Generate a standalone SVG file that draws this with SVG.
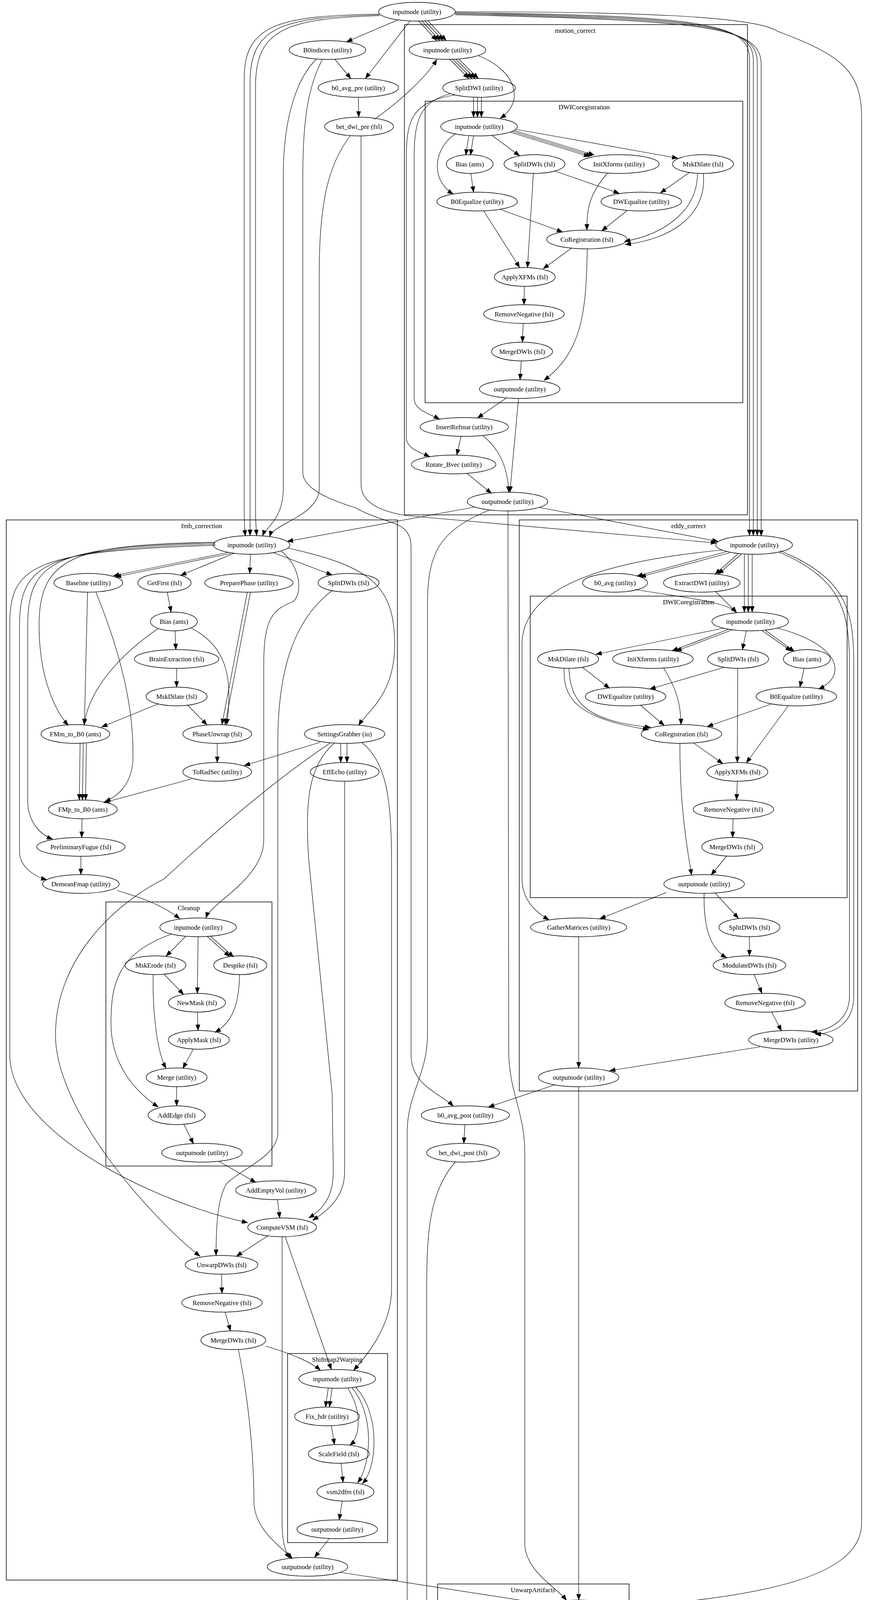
<svg xmlns="http://www.w3.org/2000/svg" width="2224" height="5045" viewBox="0 0 2224 5045">
<style>
ellipse{fill:none;stroke:#000;stroke-width:1.4}
text{font-family:"Liberation Serif",serif;font-size:17px;text-anchor:middle;fill:#000}
.c{fill:none;stroke:#000;stroke-width:1.5}
#edges path{fill:none;stroke:#000;stroke-width:1.2;marker-end:url(#a)}
</style>
<defs><marker id="a" markerUnits="userSpaceOnUse" markerWidth="16" markerHeight="12" refX="15" refY="6" orient="auto"><path d="M0,0 L16,6 L0,12 z" fill="#000"/></marker></defs>
<rect width="2224" height="5045" fill="#fff"/>
<g id="clusters">
<rect class="c" x="1035" y="63" width="878" height="1255"/><text x="1472" y="84">motion_correct</text>
<rect class="c" x="1088" y="259" width="813" height="772"/><text x="1495" y="280">DWICoregistration</text>
<rect class="c" x="16" y="1331" width="1001" height="2714"/><text x="516" y="1352">fmb_correction</text>
<rect class="c" x="271" y="2309" width="425" height="676"/><text x="483" y="2330">Cleanup</text>
<rect class="c" x="736" y="3465" width="256" height="484"/><text x="863" y="3486">Shiftmap2Warping</text>
<rect class="c" x="1329" y="1331" width="866" height="1462"/><text x="1762" y="1352">eddy_correct</text>
<rect class="c" x="1357" y="1526" width="811" height="772"/><text x="1762" y="1547">DWICoregistration</text>
<rect class="c" x="1120" y="4055" width="490" height="868"/><text x="1364" y="4076">UnwarpArtifacts</text>
<text x="1113" y="5030">hmc_sdc_ecc</text>
</g>
<g id="edges">
<path d="M1018,51 L887,107"/>
<path d="M1049,54 L935,201"/>
<path d="M1071,53 L1118,104"/><path d="M1079,53 L1126,104"/><path d="M1087,53 L1134,104"/><path d="M1095,53 L1142,104"/>
<path d="M972,36 C720,40 625,60 625,200 L625,1300 C625,1340 626,1355 628,1372"/>
<path d="M972,38 C730,44 640,64 640,210 L640,1371"/>
<path d="M972,40 C740,48 654,70 654,220 L654,1300 C654,1340 656,1360 657,1371"/>
<path d="M1165,32 C1800,40 1918,60 1918,150 L1918,1371"/>
<path d="M1165,34 C1810,44 1928,64 1928,155 L1928,1371"/>
<path d="M1165,36 C1820,48 1938,68 1938,160 L1938,1371"/>
<path d="M1165,38 C1830,52 1948,72 1948,165 L1948,1372"/>
<path d="M1165,30 C1600,30 1930,40 1990,80 C2150,140 2205,180 2205,300 L2205,3900 C2205,4050 1900,4090 1582,4116"/>
<path d="M857,152 L898,201"/>
<path d="M810,151 C760,200 725,300 725,450 L725,1250 C725,1330 680,1350 672,1372"/>
<path d="M897,347 C840,420 817,520 817,700 L817,1250 C817,1320 700,1340 690,1374"/>
<path d="M825,152 C790,220 775,300 775,450 L775,1210 C775,1260 880,1290 910,1300 C990,1345 1052,1330 1052,1400 L1052,2700 C1052,2780 1130,2800 1160,2832"/>
<path d="M924,348 L924,1240 C924,1290 980,1310 1040,1320 L1834,1390"/>
<path d="M957,306 C1010,270 1090,200 1118,152"/>
<path d="M917,249 L918,300"/>
<path d="M1150,151 L1200,201"/><path d="M1158,151 L1208,201"/><path d="M1166,151 L1216,201"/><path d="M1174,151 L1224,201"/>
<path d="M1225,143 C1320,180 1345,260 1280,303"/>
<path d="M1212,249 L1212,300"/><path d="M1222,249 L1222,300"/><path d="M1232,249 L1232,300"/>
<path d="M1152,240 C1080,260 1060,300 1060,400 L1060,1020 C1060,1050 1100,1060 1125,1073"/>
<path d="M1165,243 C1060,260 1040,300 1040,400 L1040,1120 C1040,1150 1080,1160 1100,1169"/>
<path d="M1200,347 L1192,397"/><path d="M1212,347 L1204,397"/>
<path d="M1165,343 C1110,380 1100,460 1160,497"/>
<path d="M1258,346 L1330,399"/>
<path d="M1304,338 L1509,401"/><path d="M1310,336 L1515,399"/><path d="M1316,334 L1521,397"/>
<path d="M1320,331 L1735,405"/>
<path d="M1205,444 L1212,492"/>
<path d="M1365,444 L1350,685"/>
<path d="M1420,438 L1585,495"/>
<path d="M1555,443 C1505,500 1502,540 1502,589"/>
<path d="M1765,441 L1690,494"/>
<path d="M1785,444 C1785,540 1700,600 1598,618"/>
<path d="M1800,444 C1810,550 1720,612 1600,626"/>
<path d="M1280,536 L1440,594"/>
<path d="M1238,540 L1330,685"/>
<path d="M1605,539 L1540,591"/>
<path d="M1463,635 L1390,688"/>
<path d="M1503,637 C1500,800 1490,900 1392,974"/>
<path d="M1342,733 L1341,780"/>
<path d="M1339,828 L1337,876"/>
<path d="M1334,924 L1331,972"/>
<path d="M1297,1018 L1222,1070"/>
<path d="M1327,1020 L1305,1260"/>
<path d="M1180,1117 L1169,1165"/>
<path d="M1235,1115 C1280,1150 1300,1200 1302,1260"/>
<path d="M1195,1212 L1258,1263"/>
<path d="M1215,1298 L735,1386"/>
<path d="M1380,1299 L1838,1386"/>
<path d="M1300,1308 L1302,2700 C1305,2800 1343,2850 1343,2950 L1343,3950 C1343,4020 1420,4060 1450,4097"/>
<path d="M1252,1306 C1120,1360 1094,1420 1094,1550 L1094,2650 C1094,2750 1042,2800 1042,2900 L1042,4800 C1042,4900 1080,4940 1085,4960"/>
<path d="M1165,2975 C1100,3050 1092,3150 1092,3300 L1092,4960"/>
<path d="M585,1414 L290,1474"/><path d="M590,1417 L295,1477"/>
<path d="M600,1416 L462,1473"/>
<path d="M641,1419 L639,1468"/>
<path d="M700,1415 L850,1472"/>
<path d="M736,1403 C950,1450 1010,1500 1010,1650 C1010,1780 940,1820 918,1857"/>
<path d="M720,1411 C770,1450 775,1520 750,1540 C700,1560 675,1580 675,1700 L675,2150 C675,2250 540,2310 527,2350"/>
<path d="M550,1388 C200,1395 100,1420 100,1600 C100,1750 150,1830 175,1857"/>
<path d="M550,1390 C150,1400 71,1430 71,1600 L71,2050 C71,2110 110,2140 135,2148"/>
<path d="M551,1393 C120,1405 50,1440 50,1600 L50,2180 C50,2220 90,2245 120,2252"/>
<path d="M552,1396 C80,1410 25,1450 25,1600 L25,2700 C25,2900 400,3080 634,3130"/>
<path d="M845,1902 C700,2000 560,2120 420,2250 C300,2310 142,2450 142,2650 C142,2850 400,3130 512,3216"/>
<path d="M224,1516 L216,1855"/>
<path d="M245,1515 C300,1650 345,1800 340,1950 C335,2010 300,2040 268,2052"/>
<path d="M428,1516 L438,1567"/>
<path d="M448,1615 L450,1663"/>
<path d="M405,1609 C330,1660 230,1750 215,1856"/>
<path d="M490,1608 C570,1650 600,1720 580,1855"/>
<path d="M452,1711 L452,1759"/>
<path d="M405,1802 L260,1861"/>
<path d="M480,1805 L530,1856"/>
<path d="M633,1516 L568,1855"/><path d="M641,1516 L576,1855"/>
<path d="M556,1903 L556,1952"/>
<path d="M205,1903 L203,2048"/><path d="M213,1903 L211,2048"/><path d="M221,1903 L219,2048"/>
<path d="M490,1994 L265,2055"/>
<path d="M210,2096 L209,2144"/>
<path d="M207,2192 L207,2239"/>
<path d="M300,2280 C370,2300 420,2320 460,2352"/>
<path d="M850,1512 C760,1580 711,1700 711,1900 L711,2900 C711,2960 620,2990 580,3030 C555,3070 553,3150 553,3214"/>
<path d="M820,1900 L625,1960"/>
<path d="M872,1903 L872,1952"/><path d="M888,1903 L888,1952"/>
<path d="M855,1903 C790,1960 780,2050 790,2200 L850,2800 L853,3000 C853,3070 820,3100 790,3118"/>
<path d="M882,2000 L882,3000 C882,3070 830,3105 800,3124"/>
<path d="M925,1900 C990,1950 1002,2050 1002,2200 L1002,3300 C1002,3400 930,3480 905,3508"/>
<path d="M475,2397 L425,2448"/>
<path d="M507,2398 L505,2543"/>
<path d="M530,2397 L588,2449"/><path d="M538,2396 L598,2450"/>
<path d="M440,2391 C300,2440 284,2520 284,2620 C284,2720 340,2790 405,2834"/>
<path d="M420,2494 L470,2546"/>
<path d="M392,2495 C390,2580 400,2690 425,2735"/>
<path d="M613,2495 C612,2580 590,2620 550,2643"/>
<path d="M505,2591 L507,2638"/>
<path d="M495,2685 L468,2735"/>
<path d="M452,2782 L452,2831"/>
<path d="M470,2877 L495,2928"/>
<path d="M560,2973 L655,3027"/>
<path d="M710,3071 L716,3118"/>
<path d="M685,3164 L605,3216"/>
<path d="M730,3166 L848,3506"/>
<path d="M722,3166 L722,3900 C722,3960 735,3980 742,3989"/>
<path d="M567,3262 L568,3311"/>
<path d="M576,3359 L590,3407"/>
<path d="M680,3446 C760,3470 800,3490 820,3508"/>
<path d="M610,3455 C630,3550 650,3700 650,3850 C655,3920 720,3960 748,3990"/>
<path d="M840,3554 L833,3602"/><path d="M850,3554 L843,3602"/>
<path d="M890,3553 C930,3620 920,3680 895,3700"/>
<path d="M900,3552 C960,3620 950,3750 915,3796"/>
<path d="M910,3551 C975,3620 965,3760 927,3798"/>
<path d="M848,3650 L856,3698"/>
<path d="M873,3746 L878,3795"/>
<path d="M876,3843 L868,3891"/>
<path d="M843,3938 L805,3987"/>
<path d="M870,4025 L1400,4107"/>
<path d="M1860,1412 L1630,1475"/><path d="M1868,1415 L1638,1477"/>
<path d="M1890,1417 L1830,1470"/><path d="M1898,1418 L1838,1470"/>
<path d="M1905,1419 L1905,1567"/><path d="M1915,1419 L1915,1567"/><path d="M1925,1419 L1925,1567"/>
<path d="M1850,1408 C1500,1440 1336,1520 1336,1650 L1336,2250 C1336,2310 1380,2340 1405,2355"/>
<path d="M1993,1413 C2150,1480 2174,1560 2174,1700 L2174,2550 C2174,2620 2110,2640 2076,2642"/>
<path d="M1997,1410 C2165,1480 2185,1560 2185,1700 L2185,2550 C2185,2630 2120,2648 2086,2647"/>
<path d="M1625,1509 C1750,1530 1860,1540 1885,1568"/>
<path d="M1830,1513 L1885,1568"/>
<path d="M1852,1608 L1525,1675"/>
<path d="M1865,1611 L1720,1666"/><path d="M1875,1612 L1730,1667"/>
<path d="M1910,1615 L1900,1663"/>
<path d="M1950,1614 L2025,1667"/><path d="M1958,1613 L2033,1668"/>
<path d="M1990,1608 C2150,1650 2170,1730 2095,1764"/>
<path d="M1490,1708 L1560,1762"/>
<path d="M1444,1711 C1440,1790 1480,1840 1660,1868"/>
<path d="M1456,1711 C1460,1800 1500,1845 1665,1862"/>
<path d="M1698,1710 C1730,1760 1742,1800 1743,1855"/>
<path d="M1855,1708 L1663,1764"/>
<path d="M1888,1711 L1887,1952"/>
<path d="M2058,1711 L2047,1759"/>
<path d="M1640,1806 L1700,1857"/>
<path d="M1975,1802 L1810,1860"/>
<path d="M2018,1806 L1910,1953"/>
<path d="M1775,1902 L1850,1955"/>
<path d="M1740,1903 C1740,2000 1745,2100 1770,2240"/>
<path d="M1887,2000 L1885,2048"/>
<path d="M1876,2096 L1875,2144"/>
<path d="M1860,2191 L1820,2240"/>
<path d="M1705,2285 L1535,2352"/>
<path d="M1830,2286 L1890,2351"/>
<path d="M1802,2287 C1800,2380 1820,2430 1860,2452"/>
<path d="M1918,2398 L1918,2447"/>
<path d="M1930,2495 L1950,2543"/>
<path d="M1975,2591 L2000,2639"/>
<path d="M1945,2680 L1560,2741"/>
<path d="M1481,2398 L1481,2734"/>
<path d="M1420,2777 L1250,2834"/>
<path d="M1481,2782 L1481,4096"/>
<path d="M1190,2879 L1187,2927"/>
<path d="M1435,4141 L1305,4199"/>
<path d="M1459,4144 L1459,4194"/><path d="M1472,4144 L1472,4193"/><path d="M1486,4144 L1486,4193"/><path d="M1500,4144 L1500,4194"/>
<path d="M1250,4241 C1225,4300 1225,4350 1227,4384"/>
<path d="M1290,4238 L1330,4289"/>
<path d="M1410,4236 C1300,4280 1235,4310 1232,4384"/>
<path d="M1481,4241 L1481,4384"/>
<path d="M1505,4240 C1580,4350 1600,4450 1600,4600 C1600,4720 1550,4800 1490,4868"/>
<path d="M1330,4333 L1265,4386"/>
<path d="M1390,4336 L1445,4387"/>
<path d="M1362,4336 L1364,4480"/>
<path d="M1233,4432 C1232,4500 1240,4540 1265,4578"/>
<path d="M1452,4430 L1400,4482"/>
<path d="M1485,4432 C1500,4550 1500,4700 1488,4866"/>
<path d="M1340,4527 L1312,4578"/>
<path d="M1390,4527 C1430,4620 1435,4760 1437,4864"/>
<path d="M1287,4625 L1287,4672"/>
<path d="M1290,4720 L1292,4768"/>
<path d="M1330,4813 L1395,4866"/>
<path d="M1370,4907 L1160,4964"/>
</g>
<g id="top_inputnode"><ellipse cx="1067" cy="30" rx="98" ry="24"/><text x="1067" y="36">inputnode (utility)</text></g>
<g id="B0indices"><ellipse cx="838" cy="128" rx="98" ry="24"/><text x="838" y="134">B0indices (utility)</text></g>
<g id="b0_avg_pre"><ellipse cx="917" cy="225" rx="103" ry="24"/><text x="917" y="231">b0_avg_pre (utility)</text></g>
<g id="bet_dwi_pre"><ellipse cx="919" cy="324" rx="88" ry="24"/><text x="919" y="330">bet_dwi_pre (fsl)</text></g>
<g id="mc_inputnode"><ellipse cx="1145" cy="128" rx="98" ry="24"/><text x="1145" y="134">inputnode (utility)</text></g>
<g id="mc_SplitDWI"><ellipse cx="1226" cy="225" rx="93" ry="24"/><text x="1226" y="231">SplitDWI (utility)</text></g>
<g id="c1_inputnode"><ellipse cx="1226" cy="324" rx="98" ry="24"/><text x="1226" y="330">inputnode (utility)</text></g>
<g id="c1_Bias"><ellipse cx="1202" cy="420" rx="60" ry="24"/><text x="1202" y="426">Bias (ants)</text></g>
<g id="c1_SplitDWIs"><ellipse cx="1368" cy="420" rx="78" ry="24"/><text x="1368" y="426">SplitDWIs (fsl)</text></g>
<g id="c1_InitXforms"><ellipse cx="1584" cy="420" rx="103" ry="24"/><text x="1584" y="426">InitXforms (utility)</text></g>
<g id="c1_MskDilate"><ellipse cx="1799" cy="420" rx="78" ry="24"/><text x="1799" y="426">MskDilate (fsl)</text></g>
<g id="c1_B0Equalize"><ellipse cx="1221" cy="516" rx="103" ry="24"/><text x="1221" y="522">B0Equalize (utility)</text></g>
<g id="c1_DWEqualize"><ellipse cx="1641" cy="516" rx="103" ry="24"/><text x="1641" y="522">DWEqualize (utility)</text></g>
<g id="c1_CoRegistration"><ellipse cx="1502" cy="613" rx="103" ry="24"/><text x="1502" y="619">CoRegistration (fsl)</text></g>
<g id="c1_ApplyXFMs"><ellipse cx="1343" cy="709" rx="78" ry="24"/><text x="1343" y="715">ApplyXFMs (fsl)</text></g>
<g id="c1_RemoveNegative"><ellipse cx="1341" cy="804" rx="103" ry="24"/><text x="1341" y="810">RemoveNegative (fsl)</text></g>
<g id="c1_MergeDWIs"><ellipse cx="1336" cy="900" rx="78" ry="24"/><text x="1336" y="906">MergeDWIs (fsl)</text></g>
<g id="c1_outputnode"><ellipse cx="1330" cy="996" rx="103" ry="24"/><text x="1330" y="1002">outputnode (utility)</text></g>
<g id="mc_InsertRefmat"><ellipse cx="1188" cy="1093" rx="113" ry="24"/><text x="1188" y="1099">InsertRefmat (utility)</text></g>
<g id="mc_Rotate_Bvec"><ellipse cx="1161" cy="1189" rx="108" ry="24"/><text x="1161" y="1195">Rotate_Bvec (utility)</text></g>
<g id="mc_outputnode"><ellipse cx="1299" cy="1284" rx="103" ry="24"/><text x="1299" y="1290">outputnode (utility)</text></g>
<g id="f_inputnode"><ellipse cx="644" cy="1395" rx="98" ry="24"/><text x="644" y="1401">inputnode (utility)</text></g>
<g id="f_Baseline"><ellipse cx="226" cy="1492" rx="88" ry="24"/><text x="226" y="1498">Baseline (utility)</text></g>
<g id="f_GetFirst"><ellipse cx="421" cy="1492" rx="68" ry="24"/><text x="421" y="1498">GetFirst (fsl)</text></g>
<g id="f_PreparePhase"><ellipse cx="637" cy="1492" rx="113" ry="24"/><text x="637" y="1498">PreparePhase (utility)</text></g>
<g id="f_SplitDWIs"><ellipse cx="892" cy="1492" rx="78" ry="24"/><text x="892" y="1498">SplitDWIs (fsl)</text></g>
<g id="f_Bias"><ellipse cx="445" cy="1591" rx="60" ry="24"/><text x="445" y="1597">Bias (ants)</text></g>
<g id="f_BrainExtraction"><ellipse cx="452" cy="1687" rx="108" ry="24"/><text x="452" y="1693">BrainExtraction (fsl)</text></g>
<g id="f_MskDilate"><ellipse cx="452" cy="1783" rx="78" ry="24"/><text x="452" y="1789">MskDilate (fsl)</text></g>
<g id="f_FMm_to_B0"><ellipse cx="193" cy="1879" rx="88" ry="24"/><text x="193" y="1885">FMm_to_B0 (ants)</text></g>
<g id="f_PhaseUnwrap"><ellipse cx="556" cy="1879" rx="88" ry="24"/><text x="556" y="1885">PhaseUnwrap (fsl)</text></g>
<g id="f_SettingsGrabber"><ellipse cx="882" cy="1879" rx="103" ry="24"/><text x="882" y="1885">SettingsGrabber (io)</text></g>
<g id="f_ToRadSec"><ellipse cx="556" cy="1976" rx="88" ry="24"/><text x="556" y="1982">ToRadSec (utility)</text></g>
<g id="f_EffEcho"><ellipse cx="882" cy="1976" rx="88" ry="24"/><text x="882" y="1982">EffEcho (utility)</text></g>
<g id="f_FMp_to_B0"><ellipse cx="212" cy="2072" rx="88" ry="24"/><text x="212" y="2078">FMp_to_B0 (ants)</text></g>
<g id="f_PreliminaryFugue"><ellipse cx="207" cy="2168" rx="113" ry="24"/><text x="207" y="2174">PreliminaryFugue (fsl)</text></g>
<g id="f_DemeanFmap"><ellipse cx="207" cy="2263" rx="98" ry="24"/><text x="207" y="2269">DemeanFmap (utility)</text></g>
<g id="cl_inputnode"><ellipse cx="507" cy="2374" rx="98" ry="24"/><text x="507" y="2380">inputnode (utility)</text></g>
<g id="cl_MskErode"><ellipse cx="398" cy="2471" rx="78" ry="24"/><text x="398" y="2477">MskErode (fsl)</text></g>
<g id="cl_Despike"><ellipse cx="615" cy="2471" rx="68" ry="24"/><text x="615" y="2477">Despike (fsl)</text></g>
<g id="cl_NewMask"><ellipse cx="504" cy="2567" rx="73" ry="24"/><text x="504" y="2573">NewMask (fsl)</text></g>
<g id="cl_ApplyMask"><ellipse cx="509" cy="2662" rx="78" ry="24"/><text x="509" y="2668">ApplyMask (fsl)</text></g>
<g id="cl_Merge"><ellipse cx="452" cy="2758" rx="78" ry="24"/><text x="452" y="2764">Merge (utility)</text></g>
<g id="cl_AddEdge"><ellipse cx="452" cy="2855" rx="73" ry="24"/><text x="452" y="2861">AddEdge (fsl)</text></g>
<g id="cl_outputnode"><ellipse cx="517" cy="2951" rx="103" ry="24"/><text x="517" y="2957">outputnode (utility)</text></g>
<g id="f_AddEmptyVol"><ellipse cx="706" cy="3047" rx="103" ry="24"/><text x="706" y="3053">AddEmptyVol (utility)</text></g>
<g id="f_ComputeVSM"><ellipse cx="722" cy="3142" rx="88" ry="24"/><text x="722" y="3148">ComputeVSM (fsl)</text></g>
<g id="f_UnwarpDWIs"><ellipse cx="567" cy="3238" rx="93" ry="24"/><text x="567" y="3244">UnwarpDWIs (fsl)</text></g>
<g id="f_RemoveNegative"><ellipse cx="568" cy="3335" rx="103" ry="24"/><text x="568" y="3341">RemoveNegative (fsl)</text></g>
<g id="f_MergeDWIs"><ellipse cx="597" cy="3431" rx="83" ry="24"/><text x="597" y="3437">MergeDWIs (fsl)</text></g>
<g id="s_inputnode"><ellipse cx="863" cy="3530" rx="98" ry="24"/><text x="863" y="3536">inputnode (utility)</text></g>
<g id="s_Fix_hdr"><ellipse cx="837" cy="3626" rx="83" ry="24"/><text x="837" y="3632">Fix_hdr (utility)</text></g>
<g id="s_ScaleField"><ellipse cx="867" cy="3722" rx="78" ry="24"/><text x="867" y="3728">ScaleField (fsl)</text></g>
<g id="s_vsm2dfm"><ellipse cx="884" cy="3819" rx="73" ry="24"/><text x="884" y="3825">vsm2dfm (fsl)</text></g>
<g id="s_outputnode"><ellipse cx="863" cy="3915" rx="103" ry="24"/><text x="863" y="3921">outputnode (utility)</text></g>
<g id="f_outputnode"><ellipse cx="787" cy="4011" rx="103" ry="24"/><text x="787" y="4017">outputnode (utility)</text></g>
<g id="e_inputnode"><ellipse cx="1930" cy="1395" rx="98" ry="24"/><text x="1930" y="1401">inputnode (utility)</text></g>
<g id="e_b0_avg"><ellipse cx="1574" cy="1492" rx="83" ry="24"/><text x="1574" y="1498">b0_avg (utility)</text></g>
<g id="e_ExtractDWI"><ellipse cx="1796" cy="1492" rx="98" ry="24"/><text x="1796" y="1498">ExtractDWI (utility)</text></g>
<g id="c2_inputnode"><ellipse cx="1920" cy="1591" rx="98" ry="24"/><text x="1920" y="1597">inputnode (utility)</text></g>
<g id="c2_MskDilate"><ellipse cx="1454" cy="1687" rx="78" ry="24"/><text x="1454" y="1693">MskDilate (fsl)</text></g>
<g id="c2_InitXforms"><ellipse cx="1671" cy="1687" rx="103" ry="24"/><text x="1671" y="1693">InitXforms (utility)</text></g>
<g id="c2_SplitDWIs"><ellipse cx="1889" cy="1687" rx="78" ry="24"/><text x="1889" y="1693">SplitDWIs (fsl)</text></g>
<g id="c2_Bias"><ellipse cx="2065" cy="1687" rx="60" ry="24"/><text x="2065" y="1693">Bias (ants)</text></g>
<g id="c2_DWEqualize"><ellipse cx="1601" cy="1783" rx="103" ry="24"/><text x="1601" y="1789">DWEqualize (utility)</text></g>
<g id="c2_B0Equalize"><ellipse cx="2038" cy="1783" rx="103" ry="24"/><text x="2038" y="1789">B0Equalize (utility)</text></g>
<g id="c2_CoRegistration"><ellipse cx="1744" cy="1879" rx="103" ry="24"/><text x="1744" y="1885">CoRegistration (fsl)</text></g>
<g id="c2_ApplyXFMs"><ellipse cx="1887" cy="1976" rx="78" ry="24"/><text x="1887" y="1982">ApplyXFMs (fsl)</text></g>
<g id="c2_RemoveNegative"><ellipse cx="1877" cy="2072" rx="103" ry="24"/><text x="1877" y="2078">RemoveNegative (fsl)</text></g>
<g id="c2_MergeDWIs"><ellipse cx="1874" cy="2168" rx="78" ry="24"/><text x="1874" y="2174">MergeDWIs (fsl)</text></g>
<g id="c2_outputnode"><ellipse cx="1802" cy="2263" rx="103" ry="24"/><text x="1802" y="2269">outputnode (utility)</text></g>
<g id="e_GatherMatrices"><ellipse cx="1481" cy="2374" rx="123" ry="24"/><text x="1481" y="2380">GatherMatrices (utility)</text></g>
<g id="e_SplitDWIs"><ellipse cx="1918" cy="2374" rx="78" ry="24"/><text x="1918" y="2380">SplitDWIs (fsl)</text></g>
<g id="e_ModulateDWIs"><ellipse cx="1918" cy="2471" rx="93" ry="24"/><text x="1918" y="2477">ModulateDWIs (fsl)</text></g>
<g id="e_RemoveNegative"><ellipse cx="1958" cy="2567" rx="103" ry="24"/><text x="1958" y="2573">RemoveNegative (fsl)</text></g>
<g id="e_MergeDWIs"><ellipse cx="2024" cy="2662" rx="108" ry="24"/><text x="2024" y="2668">MergeDWIs (utility)</text></g>
<g id="e_outputnode"><ellipse cx="1481" cy="2758" rx="103" ry="24"/><text x="1481" y="2764">outputnode (utility)</text></g>
<g id="b0_avg_post"><ellipse cx="1191" cy="2855" rx="113" ry="24"/><text x="1191" y="2861">b0_avg_post (utility)</text></g>
<g id="bet_dwi_post"><ellipse cx="1185" cy="2951" rx="93" ry="24"/><text x="1185" y="2957">bet_dwi_post (fsl)</text></g>
<g id="u_inputnode"><ellipse cx="1481" cy="4120" rx="98" ry="24"/><text x="1481" y="4126">inputnode (utility)</text></g>
<g id="u_SplitDWIs"><ellipse cx="1248" cy="4217" rx="78" ry="24"/><text x="1248" y="4223">SplitDWIs (fsl)</text></g>
<g id="u_ConvertWarp"><ellipse cx="1481" cy="4217" rx="88" ry="24"/><text x="1481" y="4223">ConvertWarp (fsl)</text></g>
<g id="u_Reference"><ellipse cx="1361" cy="4312" rx="93" ry="24"/><text x="1361" y="4318">Reference (utility)</text></g>
<g id="u_UnwarpDWIs"><ellipse cx="1233" cy="4408" rx="88" ry="24"/><text x="1233" y="4414">UnwarpDWIs (fsl)</text></g>
<g id="u_CoeffComp"><ellipse cx="1481" cy="4408" rx="78" ry="24"/><text x="1481" y="4414">CoeffComp (fsl)</text></g>
<g id="u_JacobianComp"><ellipse cx="1364" cy="4504" rx="93" ry="24"/><text x="1364" y="4510">JacobianComp (fsl)</text></g>
<g id="u_ModulateDWIs"><ellipse cx="1287" cy="4601" rx="93" ry="24"/><text x="1287" y="4607">ModulateDWIs (fsl)</text></g>
<g id="u_RemoveNegative"><ellipse cx="1287" cy="4696" rx="103" ry="24"/><text x="1287" y="4702">RemoveNegative (fsl)</text></g>
<g id="u_MergeDWIs"><ellipse cx="1282" cy="4792" rx="78" ry="24"/><text x="1282" y="4798">MergeDWIs (fsl)</text></g>
<g id="u_outputnode"><ellipse cx="1432" cy="4888" rx="103" ry="24"/><text x="1432" y="4894">outputnode (utility)</text></g>
<g id="final_outputnode"><ellipse cx="1091" cy="4984" rx="103" ry="24"/><text x="1091" y="4990">outputnode (utility)</text></g>
</svg>
